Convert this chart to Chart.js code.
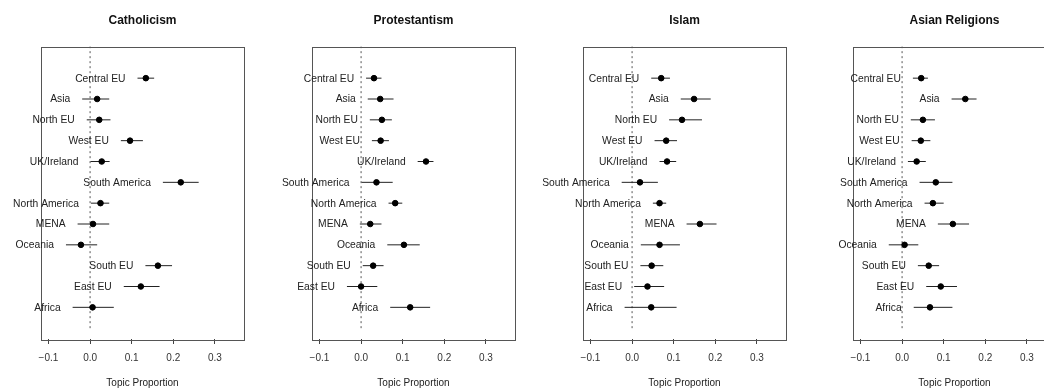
<!DOCTYPE html>
<html>
<head>
<meta charset="utf-8">
<script src="https://cdn.jsdelivr.net/npm/chart.js@4/dist/chart.umd.min.js"></script>
<style>
  html, body { margin: 0; padding: 0; background: #fff; }
  body { width: 1044px; height: 389px; overflow: hidden; position: relative; }
  canvas { position: absolute; top: 0; }
</style>
</head>
<body>
<canvas id="c0" width="300" height="389"></canvas>
<canvas id="c1" width="300" height="389"></canvas>
<canvas id="c2" width="300" height="389"></canvas>
<canvas id="c3" width="300" height="389"></canvas>
<script>
// regions, top to bottom
const regions = ['Central EU', 'Asia', 'North EU', 'West EU', 'UK/Ireland', 'South America',
  'North America', 'MENA', 'Oceania', 'South EU', 'East EU', 'Africa'];
const xTicks = [-0.1, 0, 0.1, 0.2, 0.3];
const titles = ['Catholicism', 'Protestantism', 'Islam', 'Asian Religions'];

const catholicismEst = [0.134, 0.017, 0.022, 0.096, 0.028, 0.218, 0.025, 0.007, -0.022, 0.163, 0.122, 0.006];
const catholicismLo  = [0.114, -0.019, -0.008, 0.074, 0.001, 0.175, 0.002, -0.030, -0.058, 0.133, 0.081, -0.042];
const catholicismHi  = [0.154, 0.046, 0.049, 0.127, 0.047, 0.261, 0.046, 0.046, 0.017, 0.197, 0.167, 0.057];

const protestantismEst = [0.031, 0.046, 0.050, 0.047, 0.156, 0.037, 0.082, 0.022, 0.103, 0.029, 0.000, 0.118];
const protestantismLo  = [0.012, 0.016, 0.021, 0.026, 0.136, 0.001, 0.066, -0.003, 0.063, 0.004, -0.034, 0.070];
const protestantismHi  = [0.049, 0.078, 0.074, 0.067, 0.174, 0.076, 0.099, 0.049, 0.141, 0.054, 0.039, 0.166];

const islamEst = [0.070, 0.149, 0.120, 0.082, 0.084, 0.019, 0.066, 0.163, 0.066, 0.047, 0.037, 0.046];
const islamLo  = [0.046, 0.117, 0.089, 0.054, 0.066, -0.025, 0.050, 0.131, 0.021, 0.020, 0.005, -0.018];
const islamHi  = [0.091, 0.189, 0.168, 0.108, 0.106, 0.062, 0.082, 0.203, 0.115, 0.075, 0.077, 0.107];

const asianEst = [0.046, 0.152, 0.050, 0.045, 0.035, 0.081, 0.074, 0.122, 0.006, 0.064, 0.093, 0.067];
const asianLo  = [0.026, 0.119, 0.021, 0.023, 0.014, 0.042, 0.054, 0.086, -0.032, 0.038, 0.058, 0.028];
const asianHi  = [0.062, 0.179, 0.079, 0.068, 0.057, 0.121, 0.100, 0.161, 0.039, 0.089, 0.132, 0.121];

const panels = [
  [catholicismEst, catholicismLo, catholicismHi],
  [protestantismEst, protestantismLo, protestantismHi],
  [islamEst, islamLo, islamHi],
  [asianEst, asianLo, asianHi]
];

const FONT = '"Liberation Sans", Arial, sans-serif';

// box round the plot, like R's box()
const frame = {
  id: 'frame',
  afterDatasetsDraw(chart) {
    const a = chart.chartArea;
    const ctx = chart.ctx;
    ctx.save();
    ctx.strokeStyle = '#555';
    ctx.lineWidth = 1;
    ctx.strokeRect(Math.round(a.left) + 0.5, Math.round(a.top) + 0.5,
      Math.round(a.right - a.left), Math.round(a.bottom - a.top));
    ctx.restore();
  }
};

// region names to the left of each interval
const rowLabels = {
  id: 'rowLabels',
  afterDatasetsDraw(chart, args, opts) {
    const ctx = chart.ctx;
    const xs = chart.scales.x, ys = chart.scales.y;
    ctx.save();
    ctx.font = '10.3px ' + FONT;
    ctx.fillStyle = '#222';
    ctx.textAlign = 'right';
    ctx.textBaseline = 'middle';
    regions.forEach((r, i) => {
      ctx.fillText(r, xs.getPixelForValue(opts.lo[i]) - 12, ys.getPixelForValue(12 - i) + 0.5);
    });
    ctx.restore();
  }
};

panels.forEach((p, k) => {
  const est = p[0], lo = p[1], hi = p[2];
  const el = document.getElementById('c' + k);
  const frameLeft = Math.round(40.7 + 270.9 * k);
  el.style.left = (frameLeft - 70) + 'px';

  const ciSets = regions.map((r, i) => ({
    type: 'line',
    data: [{ x: lo[i], y: 12 - i }, { x: hi[i], y: 12 - i }],
    borderColor: '#222',
    borderWidth: 1,
    pointRadius: 0,
    order: 2
  }));

  new Chart(el, {
    type: 'scatter',
    data: {
      datasets: [
        {
          type: 'line',
          data: [{ x: 0, y: 0 }, { x: 0, y: 14 }],
          borderColor: '#555',
          borderWidth: 1,
          borderDash: [2, 3],
          pointRadius: 0,
          order: 3
        },
        ...ciSets,
        {
          data: est.map((v, i) => ({ x: v, y: 12 - i })),
          backgroundColor: '#000',
          borderColor: '#000',
          pointRadius: 2.8,
          order: 1
        }
      ]
    },
    options: {
      responsive: false,
      animation: false,
      layout: { padding: { left: 70, right: 27, top: 0, bottom: 0 } },
      plugins: {
        legend: { display: false },
        tooltip: { enabled: false },
        title: {
          display: true,
          text: titles[k],
          color: '#111',
          font: { family: FONT, size: 12, weight: 'bold' },
          padding: { top: 13.5, bottom: 18.6 }
        },
        rowLabels: { lo: lo }
      },
      scales: {
        x: {
          type: 'linear',
          min: -0.118,
          max: 0.370,
          afterFit(scale) { scale.height = 50; },
          border: { display: false },
          grid: { drawOnChartArea: false, drawTicks: true, tickLength: 5, color: '#444' },
          ticks: {
            stepSize: 0.1,
            includeBounds: false,
            padding: 8,
            color: '#333',
            font: { family: FONT, size: 10 },
            callback: v => xTicks.some(t => Math.abs(t - v) < 1e-9) ? v.toFixed(1).replace('-', '\u2212') : ''
          },
          title: {
            display: true,
            text: 'Topic Proportion',
            color: '#222',
            font: { family: FONT, size: 10 },
            padding: 0
          }
        },
        y: {
          type: 'linear',
          display: false,
          min: -0.52,
          max: 13.52
        }
      }
    },
    plugins: [frame, rowLabels]
  });
});
</script>
</body>
</html>
